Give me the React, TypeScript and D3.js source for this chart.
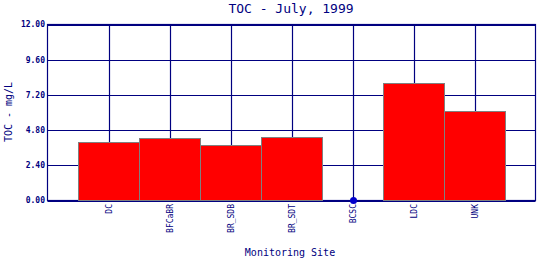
import React from "react";
import * as d3 from "d3";

const categories = ["DC", "BFCaBR", "BR_SDB", "BR_SDT", "BCSC", "LDC", "UNK"];
const values: (number | null)[] = [4.02, 4.29, 3.79, 4.36, 0, 7.98, 6.07];
const yTicks = [0, 2.4, 4.8, 7.2, 9.6, 12];
const title = "TOC - July, 1999";
const yTitle = "TOC - mg/L";
const xTitle = "Monitoring Site";

const W = 540, H = 260;
const L = 47.5, R = 535.5, T = 24.5, B = 200.5;
const NAVY = "#000080";
const MONO = "'DejaVu Sans Mono', monospace";

export default function App() {
  const x = d3.scaleBand<string>().domain(categories).range([L + 30.5, R - 30.5]).padding(0);
  const y = d3.scaleLinear().domain([0, 12]).range([B, T]);
  const bw = x.bandwidth();
  return (
    <svg width={W} height={H} style={{ position: "absolute", left: 0, top: 0, background: "#fff" }}>
      <rect x={0} y={0} width={W} height={H} fill="#fff" />
      <text x={291} y={13} textAnchor="middle" fontFamily={MONO} fontSize={13} fill={NAVY}>{title}</text>
      {yTicks.map((t) => (
        <g key={t}>
          <line x1={L} x2={R} y1={Math.round(y(t)) + 0.5 - 0.5 * 0} y2={Math.round(y(t)) + 0.5} stroke={NAVY} strokeWidth={1.2} />
          <text x={45} y={y(t)} dy="0.35em" textAnchor="end" fontFamily={MONO} fontSize={8} fontWeight="bold" fill={NAVY}>{t.toFixed(2)}</text>
        </g>
      ))}
      {categories.map((c) => {
        const cx = Math.round(x(c)! + bw / 2) + 0.5;
        return <line key={c} x1={cx} x2={cx} y1={T} y2={B} stroke={NAVY} strokeWidth={1.2} />;
      })}
      <rect x={L} y={T} width={R - L} height={B - T} fill="none" stroke={NAVY} strokeWidth={1.2} />
      {categories.map((c, i) => {
        const v = values[i];
        if (v === null || v === 0) return null;
        const x0 = Math.round(x(c)!) + 0.5;
        return <rect key={c} x={x0} y={Math.round(y(v)) + 0.5} width={Math.round(bw)} height={B - Math.round(y(v)) - 0.5} fill="#ff0000" stroke="#808080" strokeWidth={1} />;
      })}
      {categories.map((c, i) => {
        const v = values[i];
        if (v !== 0) return null;
        return <circle key={c} cx={Math.round(x(c)! + bw / 2) + 0.5} cy={y(0)} r={3.5} fill="#0000cc" />;
      })}
      {categories.map((c) => {
        const cx = x(c)! + bw / 2;
        return (
          <text key={c} transform={`translate(${cx + 3},204) rotate(-90)`} textAnchor="end" fontFamily={MONO} fontSize={8} fill={NAVY}>{c}</text>
        );
      })}
      <text transform={`translate(12,112) rotate(-90)`} textAnchor="middle" fontFamily={MONO} fontSize={10} fill={NAVY}>{yTitle}</text>
      <text x={290} y={256} textAnchor="middle" fontFamily={MONO} fontSize={10} fill={NAVY}>{xTitle}</text>
    </svg>
  );
}
